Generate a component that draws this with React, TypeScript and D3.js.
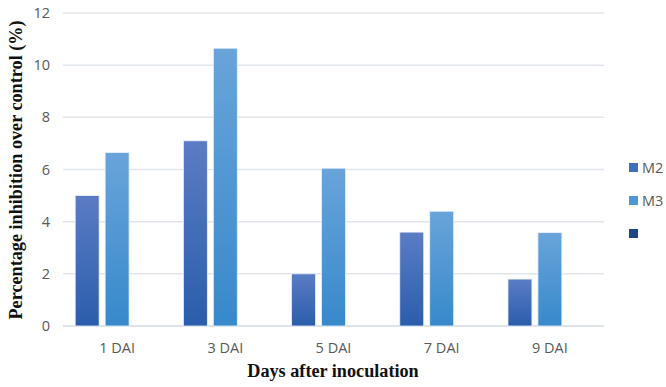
import React from 'react'
import * as d3 from 'd3'

const categories = ['1 DAI', '3 DAI', '5 DAI', '7 DAI', '9 DAI']
const seriesNames = ['M2', 'M3', '']
const m2Values = [5.0, 7.1, 2.0, 3.6, 1.8]
const m3Values = [6.65, 10.65, 6.05, 4.4, 3.58]
const emptyValues: (number | null)[] = [null, null, null, null, null]
const yTicks = [0, 2, 4, 6, 8, 10, 12]

const seriesValues = [m2Values, m3Values, emptyValues]
const gradients = [
    { top: '#5b7cc4', bottom: '#2a5dac', legend: '#4070bd' },
    { top: '#69a4da', bottom: '#3789cb', legend: '#4d97d6' },
    { top: '#1f4e8c', bottom: '#1f4e8c', legend: '#1f477f' },
]

const width = 666
const height = 387
const plot = { left: 63, right: 604, top: 13, bottom: 326 }

export default function App() {
    const x = d3.scaleBand<string>()
        .domain(categories)
        .range([plot.left, plot.right])
        .paddingInner(0.225)
        .paddingOuter(0.1125)

    const xs = d3.scaleBand<string>()
        .domain(seriesNames.map((s, i) => String(i)))
        .range([0, x.bandwidth()])
        .paddingInner(0.2)

    const y = d3.scaleLinear().domain([0, 12]).range([plot.bottom, plot.top])

    const tickFont = '"Open Sans", "Liberation Sans", sans-serif'
    const titleFont = '"Liberation Serif", "DejaVu Serif", serif'

    return (
        <svg width={width} height={height} style={{ position: 'absolute', left: 0, top: 0, background: '#fff' }}>
            <defs>
                {gradients.map((g, i) => (
                    <linearGradient key={i} id={`grad-${i}`} x1="0" y1="0" x2="0" y2="1">
                        <stop offset="0%" stopColor={g.top} />
                        <stop offset="100%" stopColor={g.bottom} />
                    </linearGradient>
                ))}
            </defs>

            {/* gridlines */}
            {yTicks.map(t => (
                <line key={`g-${t}`} x1={plot.left} x2={plot.right} y1={y(t)} y2={y(t)}
                      stroke={t === 0 ? '#d5dbe3' : '#e1e6ec'} strokeWidth={1.5} />
            ))}

            {/* y tick labels */}
            {yTicks.map(t => (
                <text key={`yt-${t}`} x={50} y={y(t)} dy="0.35em" textAnchor="end"
                      fontFamily={tickFont} fontSize={14.5} fill="#595959">{t}</text>
            ))}

            {/* bars */}
            {categories.map((c, ci) => (
                <g key={c} transform={`translate(${x(c)},0)`}>
                    {seriesValues.map((vals, si) => {
                        const v = vals[ci]
                        if (v === null || v === undefined) return null
                        return (
                            <rect key={si} x={xs(String(si))} width={xs.bandwidth()}
                                  y={y(v)} height={y(0) - y(v)}
                                  fill={`url(#grad-${si})`} stroke="#eaf1fa" strokeWidth={0.8} />
                        )
                    })}
                </g>
            ))}

            {/* x tick labels */}
            {categories.map(c => (
                <text key={`xt-${c}`} x={(x(c) as number) + x.bandwidth() / 2} y={y(0) + 27}
                      textAnchor="middle" fontFamily={tickFont} fontSize={14.5} fill="#595959">{c}</text>
            ))}

            {/* axis titles */}
            <text x={333} y={377} textAnchor="middle"
                  fontFamily={titleFont} fontWeight="bold" fontSize={18.2} fill="#111">
                Days after inoculation
            </text>
            <text transform={`translate(22, 170) rotate(-90)`} textAnchor="middle"
                  fontFamily={titleFont} fontWeight="bold" fontSize={18.2} fill="#111">
                Percentage inhibition over control (%)
            </text>

            {/* legend */}
            {seriesNames.map((s, i) => (
                <g key={`lg-${i}`} transform={`translate(629, ${163 + i * 33})`}>
                    <rect x={0} y={0} width={9} height={9} fill={gradients[i].legend} />
                    <text x={13} y={4.5} dy="0.35em" fontFamily={tickFont} fontSize={14.5} fill="#595959">{s}</text>
                </g>
            ))}
        </svg>
    )
}
